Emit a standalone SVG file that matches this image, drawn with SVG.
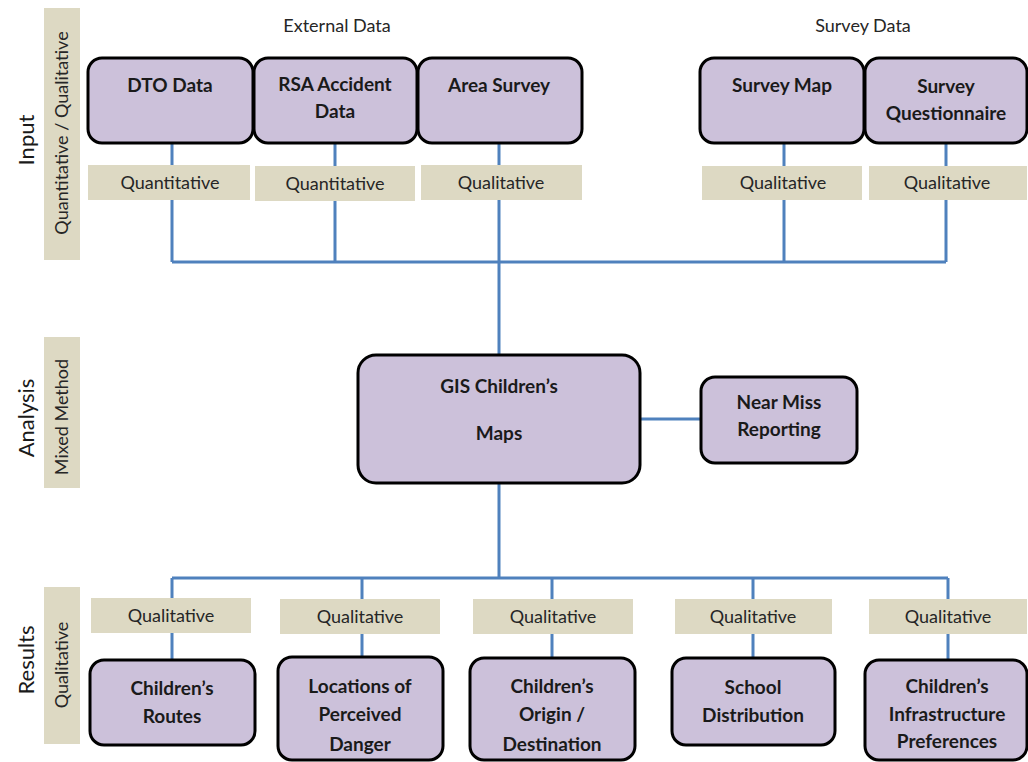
<svg xmlns="http://www.w3.org/2000/svg" width="1028" height="762" viewBox="0 0 1028 762">
<style>
.bg{fill:#ffffff}
.band{fill:#ddd9c3}
.tag{fill:#ddd9c3}
.box{fill:#ccc1da;stroke:#000;stroke-width:3}
.ln{stroke:#4f81bd;stroke-width:3;fill:none}
.t{font-family:Lato,"Open Sans","Liberation Sans",sans-serif;fill:#1a1a1a;text-anchor:middle}
.b{font-weight:bold;font-size:19px}
.s{font-size:18px;fill:#262626}
.side{font-size:22px}
</style>
<rect class="bg" x="0" y="0" width="1028" height="762"/>
<g id="side-bands">
<rect class="band" x="44" y="8" width="36" height="252"/>
<rect class="band" x="44" y="337" width="36" height="151"/>
<rect class="band" x="44" y="587" width="36" height="157"/>
<text class="t side" transform="translate(34,140) rotate(-90)">Input</text>
<text class="t s" transform="translate(68,133) rotate(-90)">Quantitative / Qualitative</text>
<text class="t side" transform="translate(34,418) rotate(-90)">Analysis</text>
<text class="t s" transform="translate(68,417) rotate(-90)">Mixed Method</text>
<text class="t side" transform="translate(34,660) rotate(-90)">Results</text>
<text class="t s" transform="translate(68,665) rotate(-90)">Qualitative</text>
</g>
<g id="headers">
<text class="t s" x="337" y="32">External Data</text>
<text class="t s" x="863" y="32">Survey Data</text>
</g>
<g id="connectors">
<path class="ln" d="M172,143V262M335,143V262M499,143V262M784,143V262M946,143V262M172,262H946M499,262V355"/>
<path class="ln" d="M640,419H701"/>
<path class="ln" d="M499,483V578M172,578H948M172,578V660M362,578V657M552,578V658M753,578V658M948,578V660"/>
</g>
<g id="tags-top">
<rect class="tag" x="88" y="165" width="162" height="35"/>
<text class="t s" x="170" y="189">Quantitative</text>
<rect class="tag" x="255" y="166" width="160" height="35"/>
<text class="t s" x="335" y="190">Quantitative</text>
<rect class="tag" x="421" y="165" width="161" height="35"/>
<text class="t s" x="501" y="189">Qualitative</text>
<rect class="tag" x="702" y="166" width="160" height="34"/>
<text class="t s" x="783" y="189">Qualitative</text>
<rect class="tag" x="869" y="166" width="158" height="34"/>
<text class="t s" x="947" y="189">Qualitative</text>
</g>
<g id="node-dto">
<rect class="box" x="88" y="58" width="165" height="85" rx="14"/>
<text class="t b" x="170" y="92">DTO Data</text>
</g>
<g id="node-rsa">
<rect class="box" x="254" y="58" width="163" height="85" rx="14"/>
<text class="t b" x="335" y="91">RSA Accident</text>
<text class="t b" x="335" y="118">Data</text>
</g>
<g id="node-area">
<rect class="box" x="418" y="58" width="164" height="85" rx="14"/>
<text class="t b" x="499" y="92">Area Survey</text>
</g>
<g id="node-surveymap">
<rect class="box" x="700" y="58" width="164" height="85" rx="14"/>
<text class="t b" x="782" y="92">Survey Map</text>
</g>
<g id="node-questionnaire">
<rect class="box" x="865" y="58" width="162" height="85" rx="14"/>
<text class="t b" x="946" y="93">Survey</text>
<text class="t b" x="946" y="120">Questionnaire</text>
</g>
<g id="node-gis">
<rect class="box" x="358" y="355" width="282" height="128" rx="18"/>
<text class="t b" x="499" y="393">GIS Children’s</text>
<text class="t b" x="499" y="440">Maps</text>
</g>
<g id="node-nearmiss">
<rect class="box" x="701" y="377" width="156" height="86" rx="14"/>
<text class="t b" x="779" y="409">Near Miss</text>
<text class="t b" x="779" y="436">Reporting</text>
</g>
<g id="tags-bottom">
<rect class="tag" x="91" y="598" width="160" height="35"/>
<text class="t s" x="171" y="622">Qualitative</text>
<rect class="tag" x="280" y="599" width="160" height="35"/>
<text class="t s" x="360" y="623">Qualitative</text>
<rect class="tag" x="473" y="599" width="160" height="35"/>
<text class="t s" x="553" y="623">Qualitative</text>
<rect class="tag" x="675" y="599" width="157" height="35"/>
<text class="t s" x="753" y="623">Qualitative</text>
<rect class="tag" x="869" y="599" width="158" height="35"/>
<text class="t s" x="948" y="623">Qualitative</text>
</g>
<g id="node-routes">
<rect class="box" x="90" y="660" width="165" height="85" rx="14"/>
<text class="t b" x="172" y="695">Children’s</text>
<text class="t b" x="172" y="723">Routes</text>
</g>
<g id="node-danger">
<rect class="box" x="278" y="657" width="165" height="103" rx="14"/>
<text class="t b" x="360" y="693">Locations of</text>
<text class="t b" x="360" y="721">Perceived</text>
<text class="t b" x="360" y="751">Danger</text>
</g>
<g id="node-origin">
<rect class="box" x="470" y="658" width="165" height="102" rx="14"/>
<text class="t b" x="552" y="693">Children’s</text>
<text class="t b" x="552" y="721">Origin /</text>
<text class="t b" x="552" y="751">Destination</text>
</g>
<g id="node-school">
<rect class="box" x="672" y="658" width="163" height="87" rx="14"/>
<text class="t b" x="753" y="694">School</text>
<text class="t b" x="753" y="722">Distribution</text>
</g>
<g id="node-infra">
<rect class="box" x="865" y="660" width="162" height="100" rx="14"/>
<text class="t b" x="947" y="693">Children’s</text>
<text class="t b" x="947" y="721">Infrastructure</text>
<text class="t b" x="947" y="748">Preferences</text>
</g>
</svg>
